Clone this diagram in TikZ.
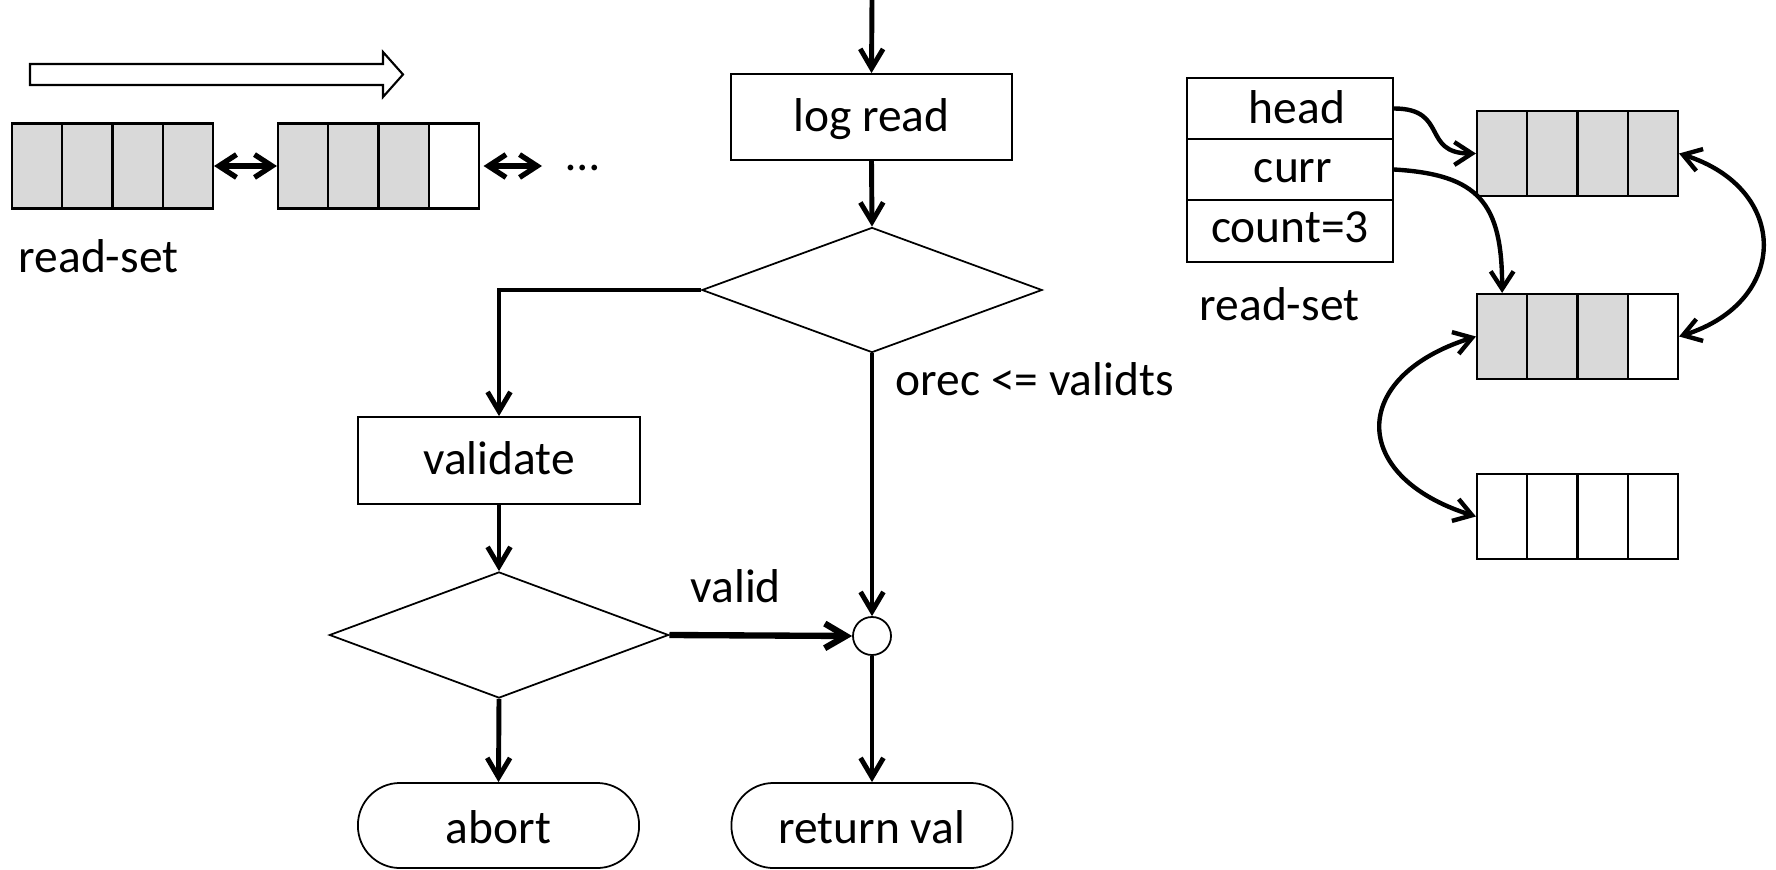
\documentclass[tikz,border=0pt]{standalone}
\usepackage{fontspec}
\setmainfont{Carlito}
\usetikzlibrary{arrows.meta,shapes.geometric,calc}
\definecolor{cellgray}{RGB}{217,217,217}
\begin{document}
\begin{tikzpicture}[x=0.01cm, y=-0.01cm,
  font=\fontsize{13.5pt}{16pt}\selectfont,
  flow/.style={line width=1.4pt, -{Straight Barb[length=5.5pt,width=6.5pt]}},
  flowbold/.style={line width=1.8pt, -{Straight Barb[length=6pt,width=7pt]}},
  link/.style={line width=1.25pt, -{Straight Barb[length=5pt,width=6.5pt]}},
  twoway/.style={line width=1.25pt, {Straight Barb[length=5pt,width=6.5pt]}-{Straight Barb[length=5pt,width=6.5pt]}},
  box/.style={draw, rectangle, line width=0.5pt, inner sep=0pt, text height=0.8em, text depth=0em},
  decision/.style={draw, diamond, line width=0.5pt, inner sep=0pt},
  terminal/.style={draw, rectangle, rounded corners=0.42cm, line width=0.5pt, inner sep=0pt,
    text height=1em, text depth=0em, minimum width=2.81cm, minimum height=0.85cm},
  cell/.style={draw, rectangle, line width=0.6pt, inner sep=0pt, minimum width=0.5025cm, minimum height=0.85cm},
  label/.style={inner sep=0pt}
]
\useasboundingbox (0,0) rectangle (1776,870);

% ---------- scanning direction and the chained read-set blocks ----------
\draw[line width=0.6pt, fill=white]
  (30,64) -- (383,64) -- (383,52) -- (403,74.5) -- (383,97) -- (383,85) -- (30,85) -- cycle;

\foreach \i in {1,...,4}
  \node[cell, fill=cellgray] (L1c\i) at ({12+50.25*(\i-0.5)}, 166) {};
\foreach \i/\f in {1/cellgray,2/cellgray,3/cellgray,4/white}
  \node[cell, fill=\f] (L2c\i) at ({278+50.25*(\i-0.5)}, 166) {};

\node[label, anchor=base] (dots) at (583,170) {…};
\coordinate (more) at (542,166);
\draw[twoway, line width=1.5pt] (L1c4.east) -- (L2c1.west);
\draw[twoway, line width=1.5pt] ([xshift=1pt]L2c4.east) -- (more);

\node[label, anchor=base west] (rsleft) at (18,272) {read-set};

% ---------- read barrier flowchart ----------
\coordinate (entry) at (872,0);
\node[box, minimum width=2.81cm, minimum height=0.86cm] (logread) at (871.5,117) {log read};
\node[decision, minimum width=3.4cm, minimum height=1.25cm] (d1) at (872,290) {};
\node[label, anchor=base west] (cond) at (895,395) {orec <= validts};

\node[box, minimum width=2.82cm, minimum height=0.87cm] (validate) at (499,460.5) {validate};
\node[decision, minimum width=3.39cm, minimum height=1.26cm] (d2) at (499,635) {};
\node[label, anchor=base west] (valid) at (690,602) {valid};

\node[draw, circle, line width=0.5pt, minimum size=0.38cm, inner sep=0pt] (join) at (872,636) {};

\node[terminal] (abort) at (498.5,825.5) {abort};
\node[terminal] (retval) at (872,825.5) {return val};

\draw[flow] (entry) -- (logread.north);
\draw[flow] (logread.south) -- (d1.north);
\draw[flow] (d1.west) -| (validate.north);
\draw[flow] (validate.south) -- (d2.north);
\draw[flow] (d1.south) -- (join.north);
\draw[flowbold] (d2.east) -- (join.west);
\draw[flow] (d2.south) -- (abort.north);
\draw[flow] (join.south) -- (retval.north);

% ---------- read-set descriptor and its block list ----------
\node[box, text height=0.84em, minimum width=2.06cm, minimum height=0.61cm] (head) at (1290,108.5) {\hspace{0.14cm}head};
\node[box, text height=0.72em, minimum width=2.06cm, minimum height=0.61cm] (curr) at (1290,169.5) {\hspace{0.06cm}curr};
\node[box, text height=0.66em, minimum width=2.06cm, minimum height=0.62cm] (count) at (1290,231) {count=3};
\node[label, anchor=base west] (rsright) at (1199,320) {read-set};

\foreach \i in {1,...,4}
  \node[cell, fill=cellgray] (A\i) at ({1477+50.25*(\i-0.5)}, 153.5) {};
\foreach \i/\f in {1/cellgray,2/cellgray,3/cellgray,4/white}
  \node[cell, fill=\f] (B\i) at ({1477+50.25*(\i-0.5)}, 336.5) {};
\foreach \i in {1,...,4}
  \node[cell, fill=white] (C\i) at ({1477+50.25*(\i-0.5)}, 516.5) {};

\draw[link] (head.east) .. controls ($(head.east)+(55,0)$) and ($(A1.west)+(-55,0)$) .. (A1.west);
\draw[link] (curr.east) .. controls ($(curr.east)+(85,5)$) and ($(B1.north)+(0,-90)$) .. (B1.north);
\draw[twoway] (A4.east) .. controls ($(A4.east)+(111,35)$) and ($(B4.east)+(111,-35)$) .. (B4.east);
\draw[twoway] (B1.west) .. controls ($(B1.west)+(-127,40)$) and ($(C1.west)+(-127,-40)$) .. (C1.west);
\end{tikzpicture}
\end{document}
